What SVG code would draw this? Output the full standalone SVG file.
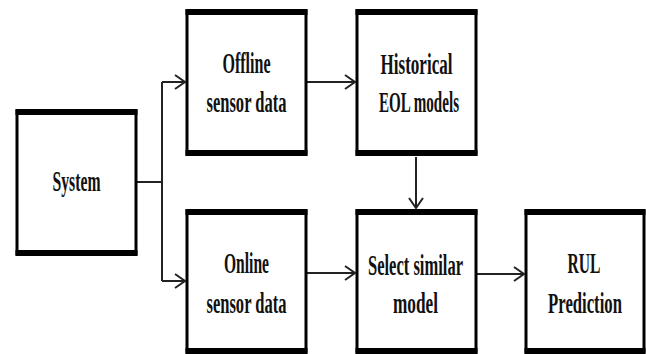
<svg xmlns="http://www.w3.org/2000/svg" width="646" height="354" viewBox="0 0 646 354">
<defs>
<style>
.box{fill:#fff;stroke:#000;stroke-width:3}
.bar{stroke:#000;stroke-width:6}
.t{font-family:"Liberation Serif","Times New Roman",serif;font-weight:bold;font-size:30px;fill:#111;text-anchor:middle}
.c{fill:none;stroke:#222;stroke-width:2}
</style>
<marker id="ah" markerUnits="userSpaceOnUse" markerWidth="14" markerHeight="18" refX="11" refY="8" orient="auto">
<path d="M1,1 L11,8 L1,15" fill="none" stroke="#222" stroke-width="2"/>
</marker>
</defs>
<g id="connectors">
<path class="c" d="M137,182 H162"/>
<path class="c" d="M162,82 V281"/>
<path class="c" d="M162,82 H185" marker-end="url(#ah)"/>
<path class="c" d="M162,281 H185" marker-end="url(#ah)"/>
<path class="c" d="M307,82 H355" marker-end="url(#ah)"/>
<path class="c" d="M416,157 V208" marker-end="url(#ah)"/>
<path class="c" d="M307,273 H355" marker-end="url(#ah)"/>
<path class="c" d="M477,274 H524" marker-end="url(#ah)"/>
</g>
<g id="system">
<rect class="box" x="17" y="111" width="119" height="143"/>
<line class="bar" x1="15.5" y1="112" x2="137.5" y2="112"/>
<line class="bar" x1="15.5" y1="253" x2="137.5" y2="253"/>
<text class="t" x="76.5" y="191" textLength="48" lengthAdjust="spacingAndGlyphs">System</text>
</g>
<g id="offline">
<rect class="box" x="187" y="11" width="119" height="143"/>
<line class="bar" x1="185.5" y1="12" x2="307.5" y2="12"/>
<line class="bar" x1="185.5" y1="153" x2="307.5" y2="153"/>
<text class="t" x="246.5" y="73" textLength="48" lengthAdjust="spacingAndGlyphs">Offline</text>
<text class="t" x="246.5" y="112" textLength="80" lengthAdjust="spacingAndGlyphs">sensor data</text>
</g>
<g id="historical">
<rect class="box" x="357" y="11" width="119" height="143"/>
<line class="bar" x1="355.5" y1="12" x2="477.5" y2="12"/>
<line class="bar" x1="355.5" y1="153" x2="477.5" y2="153"/>
<text class="t" x="416.5" y="74" textLength="72" lengthAdjust="spacingAndGlyphs">Historical</text>
<text class="t" x="419" y="112" textLength="80" lengthAdjust="spacingAndGlyphs">EOL models</text>
</g>
<g id="online">
<rect class="box" x="187" y="211" width="119" height="141"/>
<line class="bar" x1="185.5" y1="212" x2="307.5" y2="212"/>
<line class="bar" x1="185.5" y1="351" x2="307.5" y2="351"/>
<text class="t" x="246.5" y="273" textLength="45" lengthAdjust="spacingAndGlyphs">Online</text>
<text class="t" x="246.5" y="313" textLength="80" lengthAdjust="spacingAndGlyphs">sensor data</text>
</g>
<g id="select">
<rect class="box" x="357" y="211" width="119" height="141"/>
<line class="bar" x1="355.5" y1="212" x2="477.5" y2="212"/>
<line class="bar" x1="355.5" y1="351" x2="477.5" y2="351"/>
<text class="t" x="415.5" y="275" textLength="95" lengthAdjust="spacingAndGlyphs">Select similar</text>
<text class="t" x="415.5" y="313" textLength="45" lengthAdjust="spacingAndGlyphs">model</text>
</g>
<g id="rul">
<rect class="box" x="526" y="211" width="118" height="141"/>
<line class="bar" x1="524.5" y1="212" x2="645.5" y2="212"/>
<line class="bar" x1="524.5" y1="351" x2="645.5" y2="351"/>
<text class="t" x="584" y="273" textLength="33" lengthAdjust="spacingAndGlyphs">RUL</text>
<g transform="translate(585,313) scale(0.556,1)">
<text class="t" x="0" y="0">Prediction</text>
</g>
</g>
</svg>
